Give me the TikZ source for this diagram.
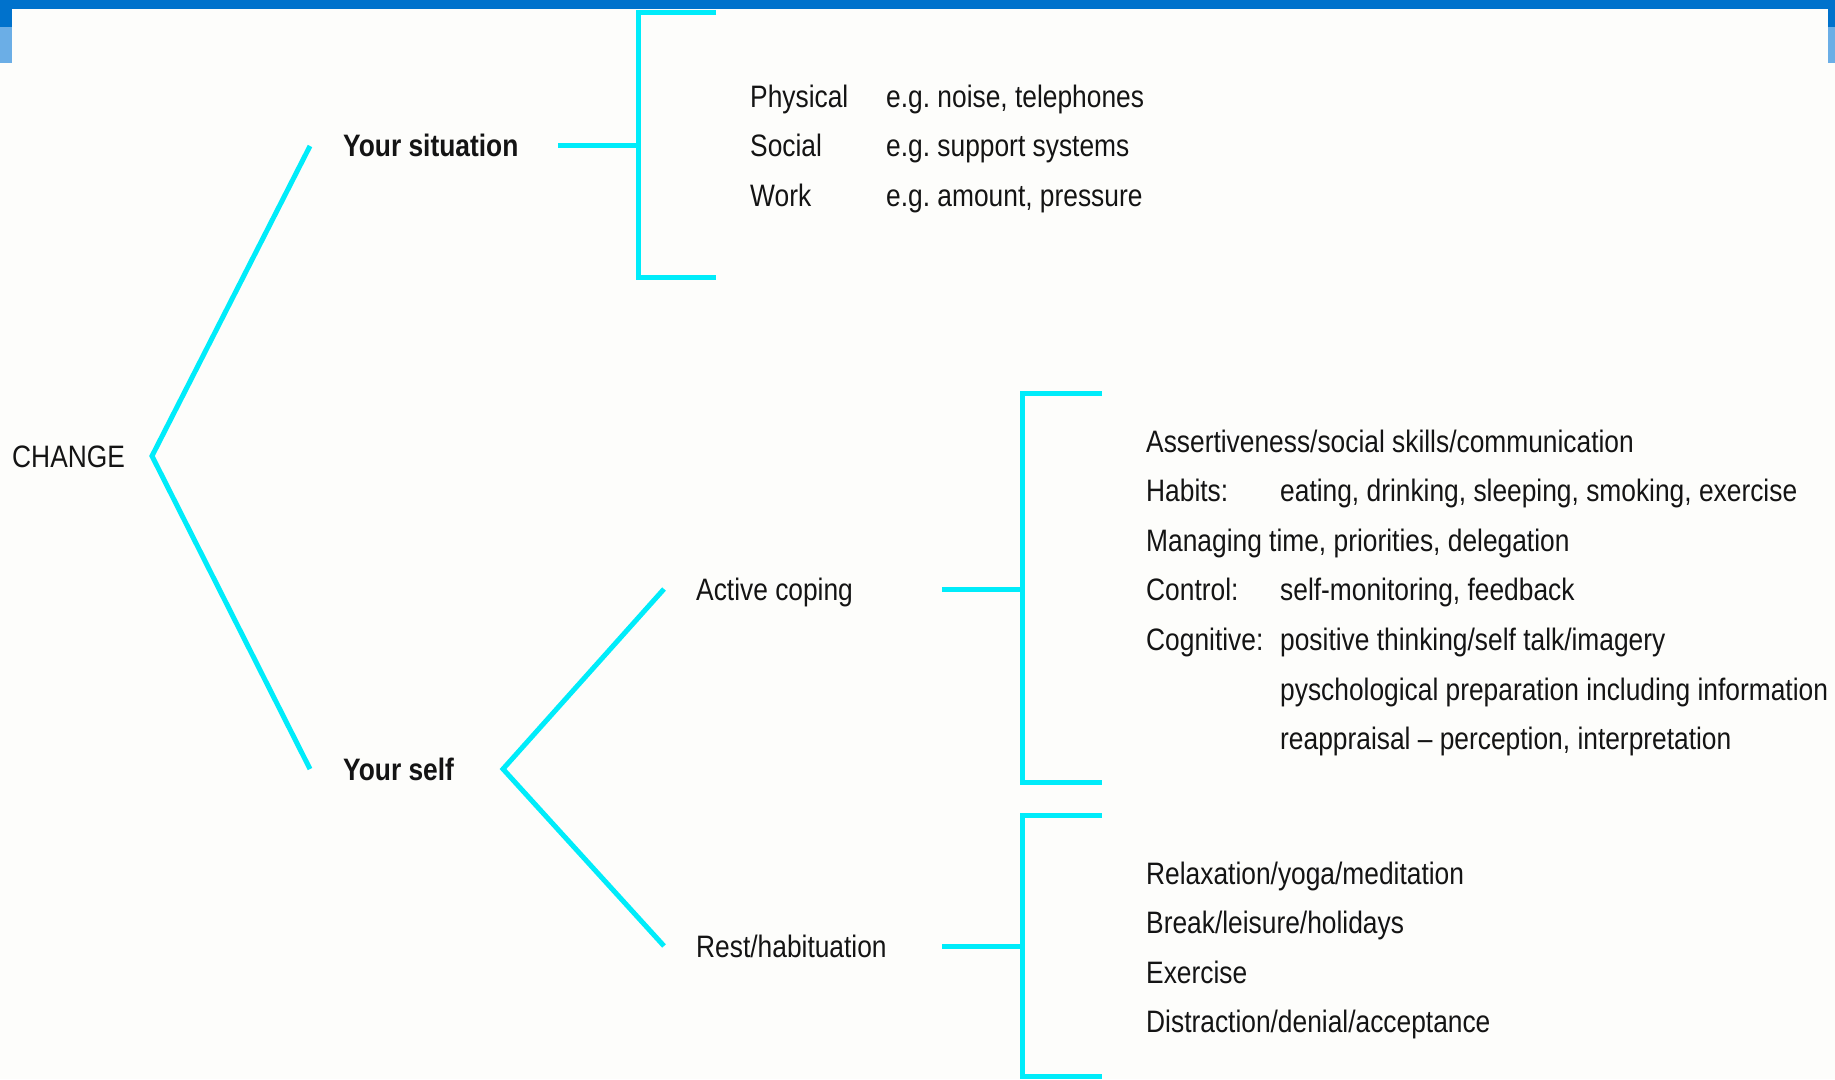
\documentclass[tikz,border=0pt]{standalone}
\usepackage{fontspec}
\setmainfont[FakeStretch=0.85]{Liberation Sans}
\usepackage{xcolor}
\usetikzlibrary{positioning}
\definecolor{barblue}{RGB}{0,114,204}
\definecolor{stripblue}{RGB}{107,174,230}
\definecolor{linecyan}{RGB}{0,236,250}
\definecolor{paper}{RGB}{253,253,251}
\definecolor{ink}{RGB}{20,20,20}

\begin{document}
\begin{tikzpicture}[x=1pt,y=-1pt]
	\tikzstyle{every node}=[font=\fontsize{31}{49.6}\selectfont\frenchspacing, text=ink, inner sep=0pt, anchor=base west]
	\tikzstyle{branch}=[line width=5pt, draw=linecyan, line join=miter]
	\useasboundingbox (0,0) rectangle (1835,1079);
	% frame
	\fill [paper] (0,0) rectangle (1835,1079);
	\fill [barblue] (0,0) rectangle (1835,9);
	\fill [barblue] (0,9) rectangle (12,27);
	\fill [stripblue] (0,27) rectangle (12,63);
	\fill [barblue] (1828,9) rectangle (1835,27);
	\fill [stripblue] (1828,27) rectangle (1835,63);
	% labels
	\node (change) at (12,467) {CHANGE};
	\node [font=\fontsize{31}{49.6}\selectfont\bfseries] (situation) at (343,156) {Your situation};
	\node [font=\fontsize{31}{49.6}\selectfont\bfseries] (self) at (343,780) {Your self};
	\node (active) at (696,600) {Active coping};
	\node (rest) at (696,957) {Rest/habituation};
	\node (envlist) at (750,107) {\begin{tabular}[t]{@{}p{136pt}@{}l@{}}
		Physical & e.g. noise, telephones\\
		Social & e.g. support systems\\
		Work & e.g. amount, pressure
	\end{tabular}};
	\node (activelist) at (1146,452) {\begin{tabular}[t]{@{}p{134pt}@{}l@{}}
		\multicolumn{2}{@{}l@{}}{Assertiveness/social skills/communication}\\
		Habits: & eating, drinking, sleeping, smoking, exercise\\
		\multicolumn{2}{@{}l@{}}{Managing time, priorities, delegation}\\
		Control: & self-monitoring, feedback\\
		Cognitive: & positive thinking/self talk/imagery\\
		& pyschological preparation including information\\
		& reappraisal -- perception, interpretation
	\end{tabular}};
	\node (restlist) at (1146,884) {\begin{tabular}[t]{@{}l@{}}
		Relaxation/yoga/meditation\\
		Break/leisure/holidays\\
		Exercise\\
		Distraction/denial/acceptance
	\end{tabular}};
	% branch points
	\coordinate (change-tip) at (152,456);
	\coordinate (situation-in) at (310,146);
	\coordinate (self-in) at (310,769);
	\coordinate (self-tip) at (503,769);
	\coordinate (active-in) at (664,589);
	\coordinate (rest-in) at (664,946);
	\coordinate (situation-out) at (558,145);
	\coordinate (active-out) at (942,589);
	\coordinate (rest-out) at (942,946);
	\coordinate (envbrace) at (638,145);
	\coordinate (activebrace) at (1022,589);
	\coordinate (restbrace) at (1022,946);
	\draw [branch] (situation-in) -- (change-tip) -- (self-in);
	\draw [branch] (active-in) -- (self-tip) -- (rest-in);
	\draw [branch] (situation-out) -- (envbrace);
	\draw [branch] (active-out) -- (activebrace);
	\draw [branch] (rest-out) -- (restbrace);
	% brackets
	\draw [branch] (716,12) -- (638,12) -- (638,277) -- (716,277);
	\draw [branch] (1102,393) -- (1022,393) -- (1022,782) -- (1102,782);
	\draw [branch] (1102,815) -- (1022,815) -- (1022,1076) -- (1102,1076);
\end{tikzpicture}
\end{document}
